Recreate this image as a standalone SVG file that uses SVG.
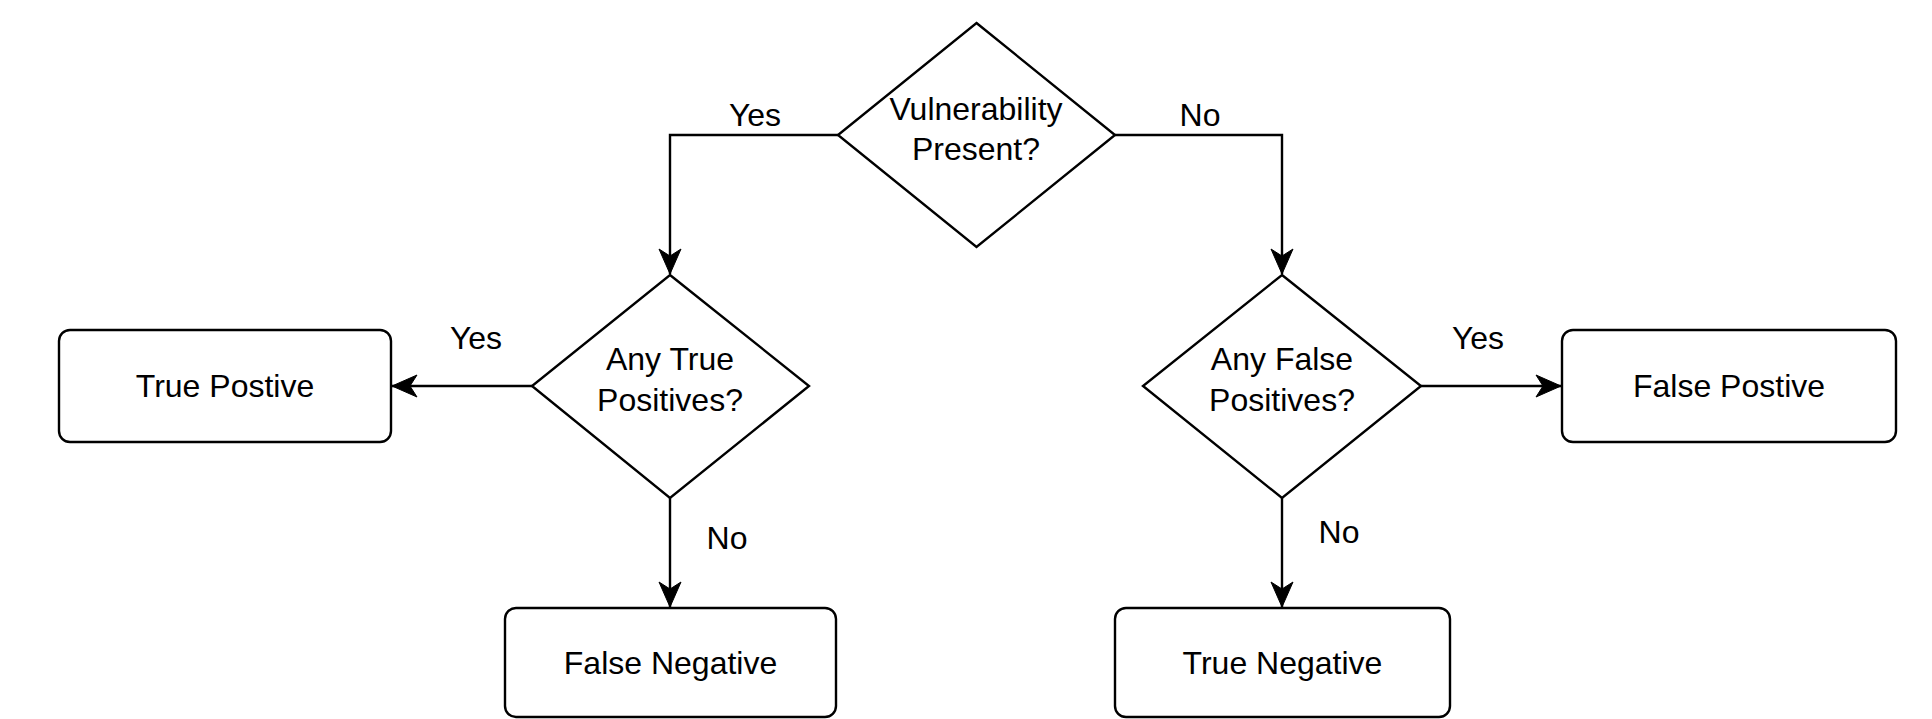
<svg xmlns="http://www.w3.org/2000/svg" width="1932" height="719" viewBox="0 0 1932 719">
<style>
.shape{fill:#ffffff;stroke:#000000;stroke-width:2.4}
.edge{fill:none;stroke:#000000;stroke-width:2.4}
text{font-family:"Liberation Sans",Arial,Helvetica,sans-serif;font-size:32px;fill:#000000;text-anchor:middle}
</style>
<defs>
<marker id="arr" markerUnits="userSpaceOnUse" markerWidth="28" markerHeight="24" refX="25" refY="11" orient="auto" overflow="visible">
<path d="M25,11 L0,0 L7,11 L0,22 Z" fill="#000000" stroke="#000000" stroke-width="1"/>
</marker>
</defs>
<rect width="1932" height="719" fill="#ffffff"/>
<g id="connectors">
<path class="edge" d="M838,135 H670 V274" marker-end="url(#arr)"/>
<path class="edge" d="M1115,135 H1282 V274" marker-end="url(#arr)"/>
<path class="edge" d="M532,386 H392" marker-end="url(#arr)"/>
<path class="edge" d="M670,498 V607" marker-end="url(#arr)"/>
<path class="edge" d="M1421,386 H1561" marker-end="url(#arr)"/>
<path class="edge" d="M1282,498 V607" marker-end="url(#arr)"/>
<text x="755" y="126">Yes</text>
<text x="1200" y="126">No</text>
<text x="476" y="349">Yes</text>
<text x="727" y="549">No</text>
<text x="1478" y="349">Yes</text>
<text x="1339" y="543">No</text>
</g>
<g id="vulnerability-present">
<polygon class="shape" points="976.5,23 1115,135 976.5,247 838,135"/>
<text x="976" y="120">Vulnerability</text>
<text x="976" y="160">Present?</text>
</g>
<g id="any-true-positives">
<polygon class="shape" points="670,275 809,386 670,498 532,386"/>
<text x="670" y="370">Any True</text>
<text x="670" y="411">Positives?</text>
</g>
<g id="any-false-positives">
<polygon class="shape" points="1282,275 1421,386 1282,498 1143,386"/>
<text x="1282" y="370">Any False</text>
<text x="1282" y="411">Positives?</text>
</g>
<g id="true-postive">
<rect class="shape" x="59" y="330" width="332" height="112" rx="11" ry="11"/>
<text x="225" y="397">True Postive</text>
</g>
<g id="false-postive">
<rect class="shape" x="1562" y="330" width="334" height="112" rx="11" ry="11"/>
<text x="1729" y="397">False Postive</text>
</g>
<g id="false-negative">
<rect class="shape" x="505" y="608" width="331" height="109" rx="11" ry="11"/>
<text x="670.5" y="674">False Negative</text>
</g>
<g id="true-negative">
<rect class="shape" x="1115" y="608" width="335" height="109" rx="11" ry="11"/>
<text x="1282.5" y="674">True Negative</text>
</g>
</svg>
